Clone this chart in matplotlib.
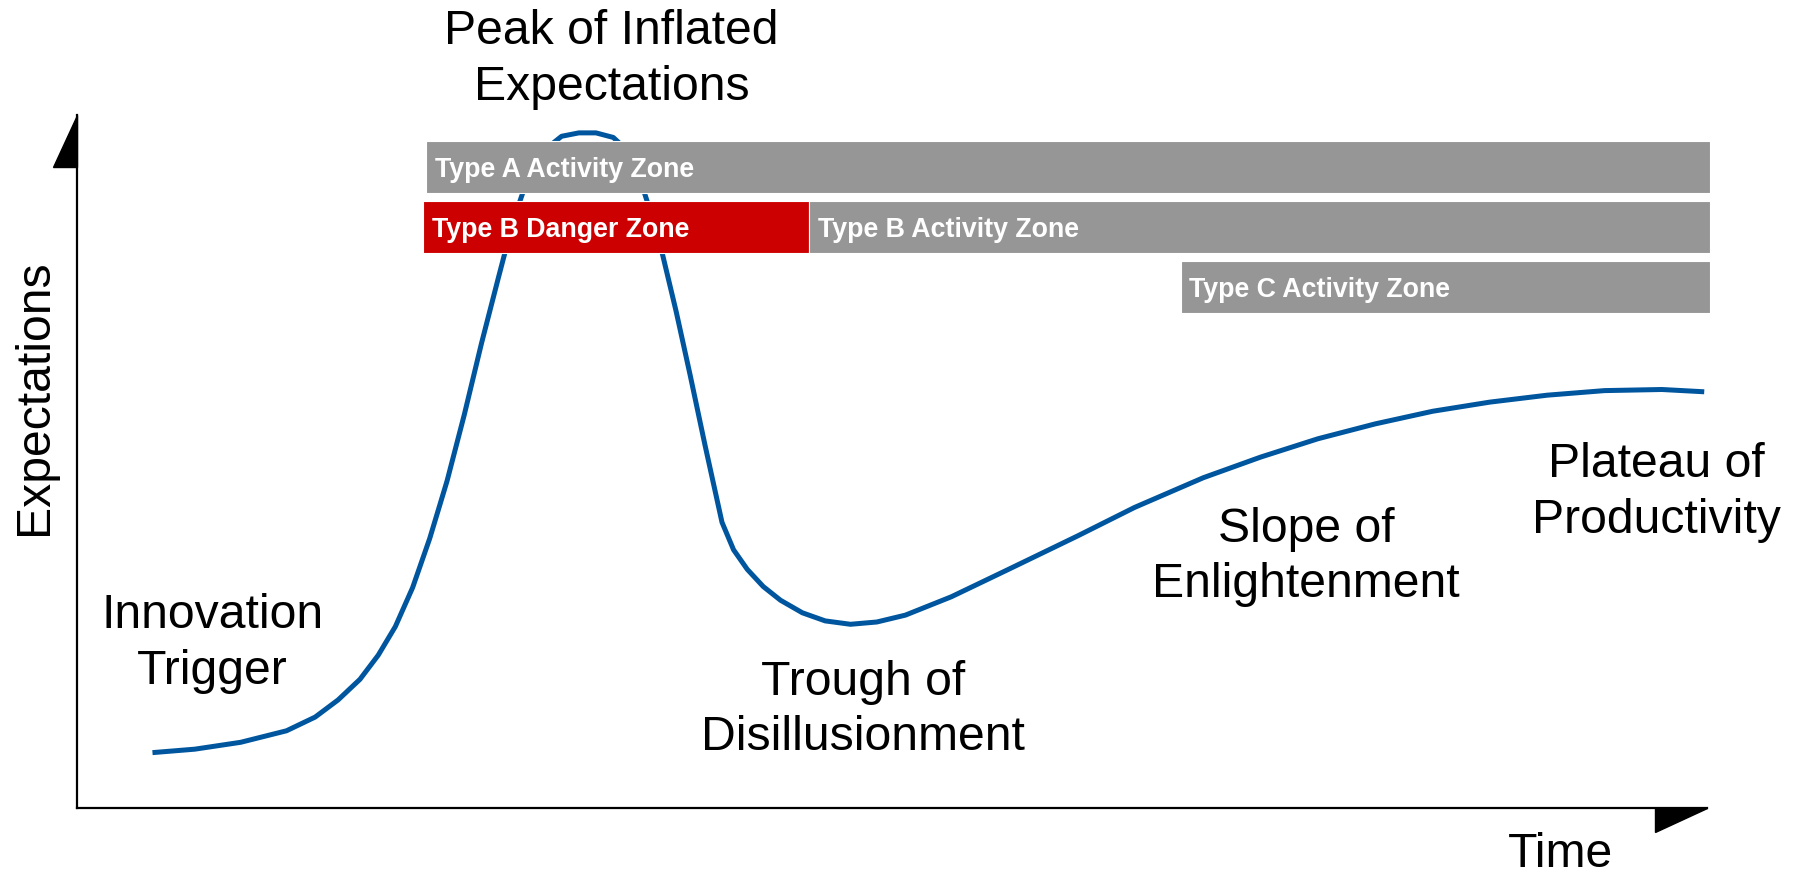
import matplotlib.pyplot as plt
from matplotlib.patches import Polygon

# hype cycle curve (time 0-100, expectations 0-100)
time = [4.63, 7.23, 10.04, 12.85, 14.61, 16.02, 17.36, 18.48, 19.53, 20.59,
        21.64, 22.70, 23.76, 24.81, 25.86, 26.78, 27.62, 28.67, 29.73, 30.79,
        31.84, 32.90, 33.81, 34.51, 35.21, 35.92, 36.76, 37.61, 38.52, 39.57,
        40.28, 41.12, 42.10, 43.16, 44.50, 45.90, 47.45, 49.07, 50.82, 53.64,
        57.15, 61.37, 64.88, 69.10, 72.62, 76.13, 79.65, 83.17, 86.68, 90.20,
        93.71, 97.23, 99.83]
expectations = [7.99, 8.49, 9.48, 11.14, 13.12, 15.60, 18.57, 22.05, 26.18, 31.80,
                38.90, 47.17, 56.75, 67.00, 76.59, 84.86, 90.64, 94.94, 96.93, 97.42,
                97.42, 96.76, 94.78, 90.97, 85.85, 79.90, 71.63, 62.54, 52.45, 41.23,
                37.26, 34.44, 31.96, 29.98, 28.17, 27.00, 26.51, 26.84, 27.83, 30.48,
                34.44, 39.24, 43.37, 47.66, 50.64, 53.28, 55.43, 57.25, 58.57, 59.57,
                60.23, 60.39, 60.06]

zone_names = ["Type A Activity Zone", "Type B Danger Zone", "Type B Activity Zone",
              "Type C Activity Zone"]
zone_start = [21.4, 21.2, 44.9, 67.7]
zone_end = [100.2, 44.9, 100.2, 100.2]
zone_row = [92.5, 83.8, 83.8, 75.2]
zone_color = ["#969696", "#cc0000", "#969696", "#969696"]

phase_names = ["Innovation\nTrigger", "Peak of Inflated\nExpectations",
               "Trough of\nDisillusionment", "Slope of\nEnlightenment",
               "Plateau of\nProductivity"]
phase_x = [8.3, 32.8, 48.2, 75.4, 96.9]
phase_y = [17.9, 102.2, 8.3, 30.4, 39.7]   # baseline of the last line

plt.rcParams['font.family'] = ['Liberation Sans', 'DejaVu Sans']

fig = plt.figure(figsize=(17.97, 8.74), dpi=100)
ax = fig.add_axes([77 / 1797, 66 / 874, 1630 / 1797, 693 / 874])
ax.set_xlim(0, 100)
ax.set_ylim(0, 100)
ax.set_xticks([])
ax.set_yticks([])
for side in ["top", "right"]:
    ax.spines[side].set_visible(False)
for side in ["left", "bottom"]:
    ax.spines[side].set_linewidth(1.6)

# half arrow heads on the axes
ax.add_patch(Polygon([(0, 100), (0, 92.5), (-1.47, 92.5)], closed=True,
                     color="black", clip_on=False))
ax.add_patch(Polygon([(100, 0), (96.8, 0), (96.8, -3.46)], closed=True,
                     color="black", clip_on=False))

ax.plot(time, expectations, color="#00569e", lw=3.6, solid_capstyle="butt",
        solid_joinstyle="round", clip_on=False, zorder=1)

for name, x0, x1, row, col in zip(zone_names, zone_start, zone_end, zone_row, zone_color):
    ax.barh(row, x1 - x0, left=x0, height=7.5, color=col, edgecolor="white",
            linewidth=0.8, clip_on=False, zorder=2)
    ax.text(x0 + 0.55, row, name, color="white", fontsize=19.3, fontweight="bold",
            va="center_baseline", ha="left", zorder=3)

for name, x, y in zip(phase_names, phase_x, phase_y):
    ax.text(x, y, name, fontsize=34.7, ha="center", va="baseline", linespacing=1.3,
            clip_on=False)

ax.text(91.0, -8.5, "Time", fontsize=34.7, ha="center", va="baseline")
ax.text(-2.6, 59.3, "Expectations", fontsize=34.7, rotation=90, ha="center", va="center")

fig.savefig("out.png", dpi=100)
